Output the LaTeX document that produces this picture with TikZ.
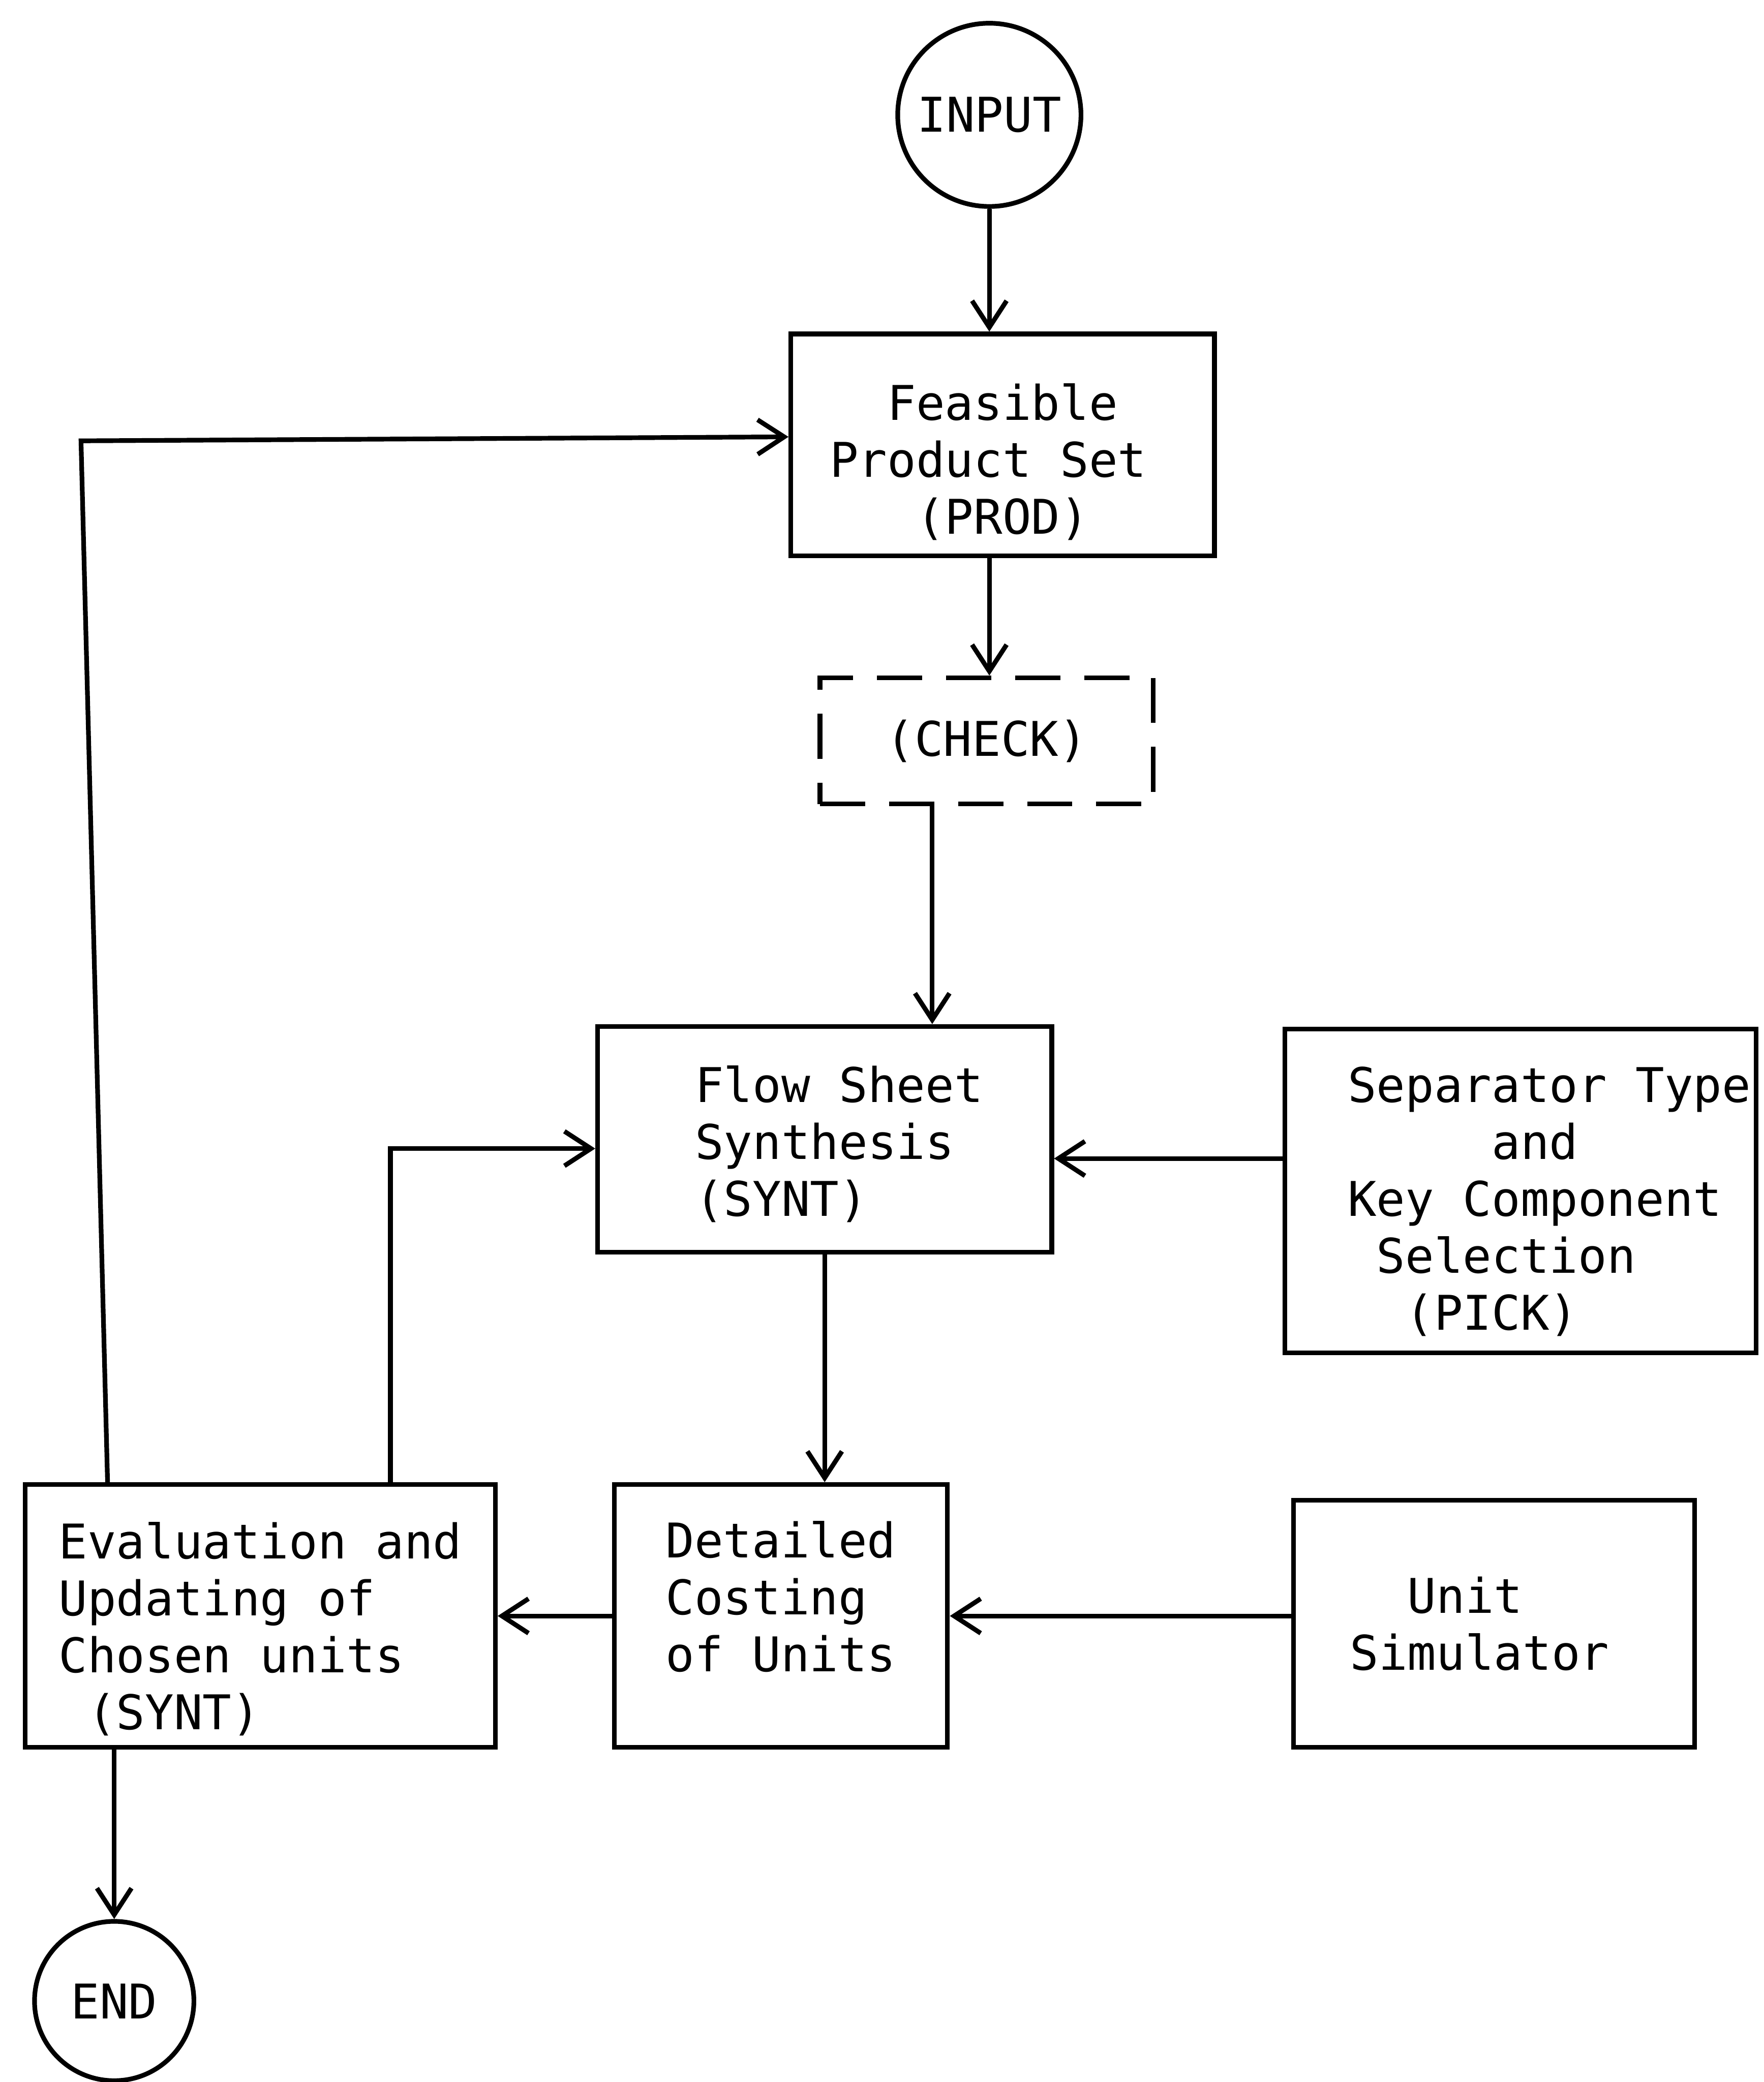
\documentclass[tikz,border=0pt]{standalone}
\usepackage{fontspec}
\setmonofont{DejaVu Sans Mono}
\usetikzlibrary{arrows.meta}

\begin{document}
\begin{tikzpicture}[
      every node/.style={font=\ttfamily\fontsize{10.25}{12.2}\selectfont},
      block/.style={draw, line width=1pt, align=left, inner sep=0pt},
      terminal/.style={draw, circle, line width=1pt, inner sep=0pt},
      link/.style={-{Straight Barb[length=2mm,width=2.6mm]}, line width=1pt}]
    \useasboundingbox (0,0) rectangle (13.28,-15.68);
    \node[terminal, minimum size=1.38cm] (input) at (7.45,-0.865) {INPUT};
    \node[block, minimum width=3.19cm, minimum height=1.67cm] (prod) at (7.55,-3.35)
          {\rule{0pt}{15.2pt}~~Feasible\\Product Set~\mbox{}\\~~~(PROD)};
    \node[block, dash pattern=on 3.4mm off 1.8mm, minimum width=2.51cm, minimum height=0.95cm]
          (check) at (7.43,-5.58) {(CHECK)};
    \node[block, minimum width=3.42cm, minimum height=1.7cm] (synt) at (6.21,-8.58)
          {\rule{0pt}{9.8pt}~Flow Sheet\\~Synthesis\\~(SYNT)};
    \node[block, minimum width=3.55cm, minimum height=2.44cm] (pick) at (11.45,-8.97)
          {\rule{0pt}{12.1pt}~~Separator Type\\~~~~~~~and\\~~Key Component\\~~~Selection\\~~~~(PICK)};
    \node[block, minimum width=3.54cm, minimum height=1.98cm] (evalu) at (1.96,-12.17)
          {\rule{0pt}{13.5pt}Evaluation and\\Updating of\\Chosen units\\~(SYNT)};
    \node[block, minimum width=2.51cm, minimum height=1.98cm] (cost) at (5.88,-12.17)
          {Detailed\\Costing\\of Units\rule[-8.5pt]{0pt}{8.5pt}};
    \node[block, minimum width=3.02cm, minimum height=1.86cm] (sim) at (11.25,-12.23)
          {~~Unit\\Simulator~\mbox{}};
    \node[terminal, minimum size=1.2cm] (stop) at (0.86,-15.07) {END};

    \coordinate (c1) at ([xshift=-4.1mm]check.south);
    \coordinate (p1) at ([yshift=2.45mm]pick.west);
    \coordinate (up1) at ([xshift=-11.5mm]evalu.north);
    \coordinate (up2) at ([xshift=9.8mm]evalu.north);
    \coordinate (bend) at (0.61,-3.32);

    \draw[link] (input.south) -- (input.south |- prod.north);
    \draw[link] (prod.south -| input) -- (check.north -| input);
    \draw[link] (c1) -- (c1 |- synt.north);
    \draw[link] (synt.south) -- (synt.south |- cost.north);
    \draw[link] (p1) -- (p1 -| synt.east);
    \draw[link] (sim.west |- cost.east) -- (cost.east);
    \draw[link] (cost.west) -- (cost.west -| evalu.east);
    \draw[link] (up2) |- ([yshift=-0.7mm]synt.west);
    \draw[link] (up1) -- (bend) -- ([yshift=0.6mm]prod.west);
    \draw[link] (evalu.south -| stop.north) -- (stop.north);
  \end{tikzpicture}
\end{document}
